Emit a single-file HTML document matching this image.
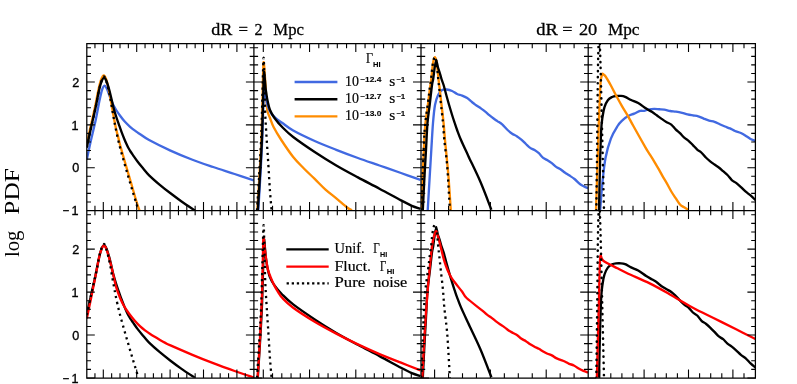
<!DOCTYPE html>
<html><head><meta charset="utf-8"><title>log PDF</title>
<style>html,body{margin:0;padding:0;background:#fff;}body{width:797px;height:384px;overflow:hidden;font-family:"Liberation Sans",sans-serif;}svg{display:block;}</style>
</head><body>
<svg width="797" height="384" viewBox="0 0 797 384">
<rect width="797" height="384" fill="#fff"/>
<defs>
<clipPath id="c00"><rect x="86.80" y="43.50" width="167.10" height="167.30"/></clipPath>
<clipPath id="c01"><rect x="86.80" y="210.50" width="167.10" height="167.30"/></clipPath>
<clipPath id="c10"><rect x="253.90" y="43.50" width="167.10" height="167.30"/></clipPath>
<clipPath id="c11"><rect x="253.90" y="210.50" width="167.10" height="167.30"/></clipPath>
<clipPath id="c20"><rect x="421.00" y="43.50" width="167.20" height="167.30"/></clipPath>
<clipPath id="c21"><rect x="421.00" y="210.50" width="167.20" height="167.30"/></clipPath>
<clipPath id="c30"><rect x="588.20" y="43.50" width="167.20" height="167.30"/></clipPath>
<clipPath id="c31"><rect x="588.20" y="210.50" width="167.20" height="167.30"/></clipPath>
</defs>
<g clip-path="url(#c00)">
<path d="M86.80 159.50 C87.50 156.25 89.52 146.58 91.00 140.00 C92.48 133.42 94.27 126.65 95.70 120.00 C97.13 113.35 98.55 105.10 99.60 100.10 C100.65 95.10 101.17 92.42 102.00 90.00 C102.83 87.58 103.77 85.77 104.60 85.60 C105.43 85.43 106.10 87.10 107.00 89.00 C107.90 90.90 109.03 94.50 110.00 97.00 C110.97 99.50 111.72 101.75 112.80 104.00 C113.88 106.25 115.25 108.50 116.50 110.50 C117.75 112.50 118.97 114.20 120.30 116.00 C121.63 117.80 122.87 119.50 124.50 121.30 C126.13 123.10 128.13 125.08 130.10 126.80 C132.07 128.52 134.62 130.37 136.30 131.60 C137.98 132.83 138.07 132.80 140.20 134.20 C142.33 135.60 144.05 137.27 149.10 140.00 C154.15 142.73 163.38 147.35 170.50 150.60 C177.62 153.85 184.68 156.77 191.80 159.50 C198.92 162.23 206.07 164.58 213.20 167.00 C220.33 169.42 227.83 171.75 234.60 174.00 C241.37 176.25 250.60 179.42 253.80 180.50" fill="none" stroke="#4169e1" stroke-width="2.35" stroke-linejoin="round" />
<path d="M86.30 146.50 C86.97 143.42 88.88 134.42 90.30 128.00 C91.72 121.58 93.45 114.33 94.80 108.00 C96.15 101.67 97.37 94.67 98.40 90.00 C99.43 85.33 100.10 82.42 101.00 80.00 C101.90 77.58 102.90 75.50 103.80 75.50 C104.70 75.50 105.57 77.58 106.40 80.00 C107.23 82.42 108.10 86.83 108.80 90.00 C109.50 93.17 109.98 95.67 110.60 99.00 C111.22 102.33 111.88 106.50 112.50 110.00 C113.12 113.50 113.70 116.82 114.30 120.00 C114.90 123.18 115.42 126.10 116.10 129.10 C116.78 132.10 117.73 135.35 118.40 138.00 C119.07 140.65 118.92 140.67 120.10 145.00 C121.28 149.33 123.67 157.67 125.50 164.00 C127.33 170.33 129.30 176.83 131.10 183.00 C132.90 189.17 134.90 196.42 136.30 201.00 C137.70 205.58 138.97 208.92 139.50 210.50" fill="none" stroke="#ff8c00" stroke-width="2.35" stroke-linejoin="round" />
<path d="M86.80 147.50 C87.50 144.25 89.55 134.58 91.00 128.00 C92.45 121.42 94.15 114.33 95.50 108.00 C96.85 101.67 98.10 94.42 99.10 90.00 C100.10 85.58 100.68 83.53 101.50 81.50 C102.32 79.47 103.17 77.83 104.00 77.80 C104.83 77.77 105.62 79.27 106.50 81.30 C107.38 83.33 108.47 87.05 109.30 90.00 C110.13 92.95 110.78 96.00 111.50 99.00 C112.22 102.00 112.80 105.00 113.60 108.00 C114.40 111.00 115.40 114.20 116.30 117.00 C117.20 119.80 118.12 122.28 119.00 124.80 C119.88 127.32 120.68 129.65 121.60 132.10 C122.52 134.55 123.67 137.47 124.50 139.50 C125.33 141.53 125.97 142.92 126.60 144.30 C127.23 145.68 127.65 146.60 128.30 147.80 C128.95 149.00 129.70 150.25 130.50 151.50 C131.30 152.75 131.93 153.63 133.10 155.30 C134.27 156.97 135.98 159.50 137.50 161.50 C139.02 163.50 140.27 165.00 142.20 167.30 C144.13 169.60 146.17 172.38 149.10 175.30 C152.03 178.22 156.23 181.80 159.80 184.80 C163.37 187.80 166.93 190.57 170.50 193.30 C174.07 196.03 177.12 198.33 181.20 201.20 C185.28 204.07 192.70 208.95 195.00 210.50" fill="none" stroke="#000" stroke-width="2.35" stroke-linejoin="round" />
<path d="M86.80 147.50 C87.50 144.25 89.55 134.58 91.00 128.00 C92.45 121.42 94.15 114.33 95.50 108.00 C96.85 101.67 98.10 94.50 99.10 90.00 C100.10 85.50 100.68 83.25 101.50 81.00 C102.32 78.75 103.22 76.50 104.00 76.50 C104.78 76.50 105.45 78.75 106.20 81.00 C106.95 83.25 107.80 87.00 108.50 90.00 C109.20 93.00 109.77 95.67 110.40 99.00 C111.03 102.33 111.68 106.50 112.30 110.00 C112.92 113.50 113.52 116.83 114.10 120.00 C114.68 123.17 114.92 124.83 115.80 129.00 C116.68 133.17 118.00 139.42 119.40 145.00 C120.80 150.58 122.67 157.07 124.20 162.50 C125.73 167.93 127.13 172.60 128.60 177.60 C130.07 182.60 131.53 187.60 133.00 192.50 C134.47 197.40 136.50 204.00 137.40 207.00 C138.30 210.00 138.23 209.92 138.40 210.50" fill="none" stroke="#000" stroke-width="2.3" stroke-linejoin="round" stroke-dasharray="2.2 3.85" stroke-linecap="butt"/>
</g>
<g clip-path="url(#c01)">
<path d="M86.80 314.90 C87.50 311.65 89.55 301.98 91.00 295.40 C92.45 288.82 94.15 281.73 95.50 275.40 C96.85 269.07 98.10 261.82 99.10 257.40 C100.10 252.98 100.68 250.93 101.50 248.90 C102.32 246.87 103.17 245.23 104.00 245.20 C104.83 245.17 105.62 246.67 106.50 248.70 C107.38 250.73 108.47 254.45 109.30 257.40 C110.13 260.35 110.78 263.40 111.50 266.40 C112.22 269.40 112.80 272.40 113.60 275.40 C114.40 278.40 115.40 281.60 116.30 284.40 C117.20 287.20 118.12 289.68 119.00 292.20 C119.88 294.72 120.68 297.05 121.60 299.50 C122.52 301.95 123.67 304.87 124.50 306.90 C125.33 308.93 125.97 310.32 126.60 311.70 C127.23 313.08 127.65 314.00 128.30 315.20 C128.95 316.40 129.70 317.65 130.50 318.90 C131.30 320.15 131.93 321.03 133.10 322.70 C134.27 324.37 135.98 326.90 137.50 328.90 C139.02 330.90 140.27 332.40 142.20 334.70 C144.13 337.00 146.17 339.78 149.10 342.70 C152.03 345.62 156.23 349.20 159.80 352.20 C163.37 355.20 166.93 357.97 170.50 360.70 C174.07 363.43 177.12 365.73 181.20 368.60 C185.28 371.47 192.70 376.35 195.00 377.90" fill="none" stroke="#000" stroke-width="2.35" stroke-linejoin="round" />
<path d="M86.80 318.40 C87.50 315.07 89.60 305.23 91.00 298.40 C92.40 291.57 93.88 284.07 95.20 277.40 C96.52 270.73 97.85 263.10 98.90 258.40 C99.95 253.70 100.67 251.33 101.50 249.20 C102.33 247.07 103.08 245.63 103.90 245.60 C104.72 245.57 105.53 246.95 106.40 249.00 C107.27 251.05 108.28 255.00 109.10 257.90 C109.92 260.80 110.58 263.48 111.30 266.40 C112.02 269.32 112.62 272.07 113.40 275.40 C114.18 278.73 115.18 283.40 116.00 286.40 C116.82 289.40 117.58 291.40 118.30 293.40 C119.02 295.40 119.42 296.43 120.30 298.40 C121.18 300.37 122.57 303.27 123.60 305.20 C124.63 307.13 125.42 308.37 126.50 310.00 C127.58 311.63 128.68 313.17 130.10 315.00 C131.52 316.83 133.32 319.10 135.00 321.00 C136.68 322.90 138.53 324.83 140.20 326.40 C141.87 327.97 143.33 329.13 145.00 330.40 C146.67 331.67 147.70 332.42 150.20 334.00 C152.70 335.58 157.48 338.42 160.00 339.90 C162.52 341.38 163.55 341.98 165.30 342.90 C167.05 343.82 166.08 343.45 170.50 345.40 C174.92 347.35 184.68 351.63 191.80 354.60 C198.92 357.57 206.07 360.47 213.20 363.20 C220.33 365.93 227.83 368.62 234.60 371.00 C241.37 373.38 250.60 376.42 253.80 377.50" fill="none" stroke="#ff0000" stroke-width="2.35" stroke-linejoin="round" />
<path d="M86.80 314.90 C87.50 311.65 89.55 301.98 91.00 295.40 C92.45 288.82 94.15 281.73 95.50 275.40 C96.85 269.07 98.10 261.90 99.10 257.40 C100.10 252.90 100.68 250.65 101.50 248.40 C102.32 246.15 103.22 243.90 104.00 243.90 C104.78 243.90 105.45 246.15 106.20 248.40 C106.95 250.65 107.80 254.40 108.50 257.40 C109.20 260.40 109.77 263.07 110.40 266.40 C111.03 269.73 111.68 273.90 112.30 277.40 C112.92 280.90 113.52 284.23 114.10 287.40 C114.68 290.57 114.92 292.23 115.80 296.40 C116.68 300.57 118.00 306.82 119.40 312.40 C120.80 317.98 122.67 324.47 124.20 329.90 C125.73 335.33 127.13 340.00 128.60 345.00 C130.07 350.00 131.53 355.00 133.00 359.90 C134.47 364.80 136.50 371.40 137.40 374.40 C138.30 377.40 138.23 377.32 138.40 377.90" fill="none" stroke="#000" stroke-width="2.3" stroke-linejoin="round" stroke-dasharray="2.2 3.85" stroke-linecap="butt"/>
</g>
<g clip-path="url(#c10)">
<path d="M257.30 210.50 C257.67 204.58 258.82 186.75 259.50 175.00 C260.18 163.25 260.90 152.50 261.40 140.00 C261.90 127.50 262.15 112.83 262.50 100.00 C262.85 87.17 263.12 67.17 263.50 63.00 C263.88 58.83 264.42 70.50 264.80 75.00 C265.18 79.50 265.38 84.17 265.80 90.00 C266.22 95.83 266.60 105.33 267.30 110.00 C268.00 114.67 268.93 115.12 270.00 118.00 C271.07 120.88 271.82 123.63 273.70 127.30 C275.58 130.97 278.05 135.05 281.30 140.00 C284.55 144.95 289.43 152.25 293.20 157.00 C296.97 161.75 300.32 164.85 303.90 168.50 C307.48 172.15 311.10 175.38 314.70 178.90 C318.30 182.42 321.90 186.37 325.50 189.60 C329.10 192.83 332.70 195.32 336.30 198.30 C339.90 201.28 344.50 205.50 347.10 207.50 C349.70 209.50 351.10 209.83 351.90 210.30" fill="none" stroke="#ff8c00" stroke-width="2.35" stroke-linejoin="round" />
<path d="M258.30 210.50 C258.65 204.58 259.75 186.75 260.40 175.00 C261.05 163.25 261.73 151.17 262.20 140.00 C262.67 128.83 262.87 117.17 263.20 108.00 C263.53 98.83 263.80 87.17 264.20 85.00 C264.60 82.83 265.05 91.67 265.60 95.00 C266.15 98.33 266.60 102.00 267.50 105.00 C268.40 108.00 269.58 110.75 271.00 113.00 C272.42 115.25 274.10 116.83 276.00 118.50 C277.90 120.17 279.53 121.00 282.40 123.00 C285.27 125.00 287.82 127.50 293.20 130.50 C298.58 133.50 307.52 137.78 314.70 141.00 C321.88 144.22 329.10 146.97 336.30 149.80 C343.50 152.63 350.70 155.38 357.90 158.00 C365.10 160.62 372.32 163.00 379.50 165.50 C386.68 168.00 394.17 170.62 401.00 173.00 C407.83 175.38 417.25 178.67 420.50 179.80" fill="none" stroke="#4169e1" stroke-width="2.35" stroke-linejoin="round" />
<path d="M257.80 210.50 C258.17 204.58 259.32 186.75 260.00 175.00 C260.68 163.25 261.40 151.67 261.90 140.00 C262.40 128.33 262.67 116.17 263.00 105.00 C263.33 93.83 263.58 77.17 263.90 73.00 C264.22 68.83 264.58 77.17 264.90 80.00 C265.22 82.83 265.38 86.67 265.80 90.00 C266.22 93.33 266.70 96.67 267.40 100.00 C268.10 103.33 268.82 107.00 270.00 110.00 C271.18 113.00 272.43 115.12 274.50 118.00 C276.57 120.88 279.28 124.13 282.40 127.30 C285.52 130.47 287.82 132.88 293.20 137.00 C298.58 141.12 307.52 147.25 314.70 152.00 C321.88 156.75 329.10 161.27 336.30 165.50 C343.50 169.73 350.70 173.53 357.90 177.40 C365.10 181.27 372.32 184.87 379.50 188.70 C386.68 192.53 395.62 197.55 401.00 200.40 C406.38 203.25 408.55 204.40 411.80 205.80 C415.05 207.20 419.05 208.30 420.50 208.80" fill="none" stroke="#000" stroke-width="2.35" stroke-linejoin="round" />
<path d="M257.00 210.50 C257.37 204.58 258.52 186.75 259.20 175.00 C259.88 163.25 260.58 152.50 261.10 140.00 C261.62 127.50 261.90 113.58 262.30 100.00 C262.70 86.42 263.17 62.50 263.50 58.50 C263.83 54.50 264.03 67.42 264.30 76.00 C264.57 84.58 264.78 100.73 265.10 110.00 C265.42 119.27 265.67 122.60 266.20 131.60 C266.73 140.60 267.68 154.27 268.30 164.00 C268.92 173.73 269.35 182.25 269.90 190.00 C270.45 197.75 271.32 207.08 271.60 210.50" fill="none" stroke="#000" stroke-width="2.3" stroke-linejoin="round" stroke-dasharray="2.2 3.85" stroke-linecap="butt"/>
</g>
<g clip-path="url(#c11)">
<path d="M257.80 377.90 C258.17 371.98 259.32 354.15 260.00 342.40 C260.68 330.65 261.40 319.07 261.90 307.40 C262.40 295.73 262.67 283.57 263.00 272.40 C263.33 261.23 263.58 244.57 263.90 240.40 C264.22 236.23 264.58 244.57 264.90 247.40 C265.22 250.23 265.38 254.07 265.80 257.40 C266.22 260.73 266.70 264.07 267.40 267.40 C268.10 270.73 268.82 274.40 270.00 277.40 C271.18 280.40 272.43 282.52 274.50 285.40 C276.57 288.28 279.28 291.53 282.40 294.70 C285.52 297.87 287.82 300.28 293.20 304.40 C298.58 308.52 307.52 314.65 314.70 319.40 C321.88 324.15 329.10 328.67 336.30 332.90 C343.50 337.13 350.70 340.93 357.90 344.80 C365.10 348.67 372.32 352.27 379.50 356.10 C386.68 359.93 395.62 364.95 401.00 367.80 C406.38 370.65 408.55 371.80 411.80 373.20 C415.05 374.60 419.05 375.70 420.50 376.20" fill="none" stroke="#000" stroke-width="2.35" stroke-linejoin="round" />
<path d="M257.60 377.90 C257.97 371.98 259.08 355.72 259.80 342.40 C260.52 329.08 261.42 310.50 261.90 298.00 C262.38 285.50 262.45 277.33 262.70 267.40 C262.95 257.47 263.10 241.97 263.40 238.40 C263.70 234.83 264.03 242.47 264.50 246.00 C264.97 249.53 265.62 255.62 266.20 259.60 C266.78 263.58 267.28 267.02 268.00 269.90 C268.72 272.78 269.50 274.40 270.50 276.90 C271.50 279.40 272.75 282.42 274.00 284.90 C275.25 287.38 276.60 289.62 278.00 291.80 C279.40 293.98 279.87 295.35 282.40 298.00 C284.93 300.65 287.82 303.75 293.20 307.70 C298.58 311.65 307.52 317.38 314.70 321.70 C321.88 326.02 329.10 329.82 336.30 333.60 C343.50 337.38 350.70 340.98 357.90 344.40 C365.10 347.82 372.32 351.05 379.50 354.10 C386.68 357.15 394.17 360.00 401.00 362.70 C407.83 365.40 417.25 369.03 420.50 370.30" fill="none" stroke="#ff0000" stroke-width="2.35" stroke-linejoin="round" />
<path d="M257.00 377.90 C257.37 371.98 258.52 354.15 259.20 342.40 C259.88 330.65 260.58 319.90 261.10 307.40 C261.62 294.90 261.90 280.98 262.30 267.40 C262.70 253.82 263.17 229.90 263.50 225.90 C263.83 221.90 264.03 234.82 264.30 243.40 C264.57 251.98 264.78 268.13 265.10 277.40 C265.42 286.67 265.67 290.00 266.20 299.00 C266.73 308.00 267.68 321.67 268.30 331.40 C268.92 341.13 269.35 349.65 269.90 357.40 C270.45 365.15 271.32 374.48 271.60 377.90" fill="none" stroke="#000" stroke-width="2.3" stroke-linejoin="round" stroke-dasharray="2.2 3.85" stroke-linecap="butt"/>
</g>
<g clip-path="url(#c20)">
<path d="M427.70 210.50 C428.00 205.42 428.90 190.08 429.50 180.00 C430.10 169.92 430.72 159.50 431.30 150.00 C431.88 140.50 432.38 130.50 433.00 123.00 C433.62 115.50 434.15 109.67 435.00 105.00 C435.85 100.33 436.92 97.50 438.10 95.00 C439.28 92.50 440.68 90.92 442.10 90.00 C443.52 89.08 444.93 89.33 446.60 89.50 C448.27 89.67 450.35 90.25 452.10 91.00 C453.85 91.75 455.43 93.24 457.10 94.00 C458.78 94.76 460.47 94.90 462.15 95.58 C463.83 96.26 465.69 97.12 467.20 98.10 C468.71 99.08 469.87 100.35 471.20 101.43 C472.53 102.51 473.53 103.40 475.20 104.60 C476.87 105.80 479.52 107.43 481.20 108.60 C482.88 109.77 483.90 110.53 485.25 111.62 C486.60 112.70 487.96 113.99 489.30 115.10 C490.64 116.21 491.97 117.29 493.30 118.29 C494.63 119.29 495.82 120.08 497.30 121.10 C498.78 122.12 500.48 122.92 502.20 124.40 C503.92 125.88 505.94 128.45 507.60 130.00 C509.26 131.55 510.65 132.69 512.17 133.73 C513.70 134.76 515.23 135.24 516.75 136.22 C518.27 137.20 519.80 138.33 521.33 139.62 C522.85 140.92 524.42 142.63 525.90 144.00 C527.38 145.37 528.78 146.84 530.22 147.85 C531.66 148.86 533.10 149.15 534.54 150.05 C535.98 150.95 537.42 151.94 538.86 153.24 C540.30 154.54 541.74 156.69 543.18 157.85 C544.62 159.01 546.06 159.31 547.50 160.20 C548.94 161.09 550.38 162.06 551.82 163.17 C553.26 164.27 554.70 165.84 556.14 166.85 C557.58 167.85 559.02 168.27 560.46 169.22 C561.90 170.16 563.34 171.52 564.78 172.53 C566.22 173.54 567.48 174.22 569.10 175.30 C570.72 176.38 572.70 177.57 574.50 179.02 C576.30 180.47 578.31 182.77 579.90 184.00 C581.49 185.23 582.67 185.68 584.05 186.39 C585.43 187.11 587.51 187.98 588.20 188.30" fill="none" stroke="#4169e1" stroke-width="2.35" stroke-linejoin="round" />
<path d="M421.50 210.50 C421.72 204.58 422.33 186.75 422.80 175.00 C423.27 163.25 423.85 148.67 424.30 140.00 C424.75 131.33 424.83 129.33 425.50 123.00 C426.17 116.67 427.55 107.83 428.30 102.00 C429.05 96.17 429.50 91.83 430.00 88.00 C430.50 84.17 430.93 82.00 431.30 79.00 C431.67 76.00 431.87 72.90 432.20 70.00 C432.53 67.10 432.85 63.75 433.30 61.60 C433.75 59.45 434.37 57.10 434.90 57.10 C435.43 57.10 436.05 59.45 436.50 61.60 C436.95 63.75 437.27 67.10 437.60 70.00 C437.93 72.90 438.17 76.00 438.50 79.00 C438.83 82.00 439.15 84.17 439.60 88.00 C440.05 91.83 440.53 96.17 441.20 102.00 C441.87 107.83 442.97 116.67 443.60 123.00 C444.23 129.33 444.23 131.63 445.00 140.00 C445.77 148.37 447.23 161.45 448.20 173.20 C449.17 184.95 450.37 204.28 450.80 210.50" fill="none" stroke="#ff8c00" stroke-width="2.35" stroke-linejoin="round" />
<path d="M422.80 210.50 C423.05 205.42 423.77 190.08 424.30 180.00 C424.83 169.92 425.47 159.50 426.00 150.00 C426.53 140.50 426.87 130.67 427.50 123.00 C428.13 115.33 429.05 110.33 429.80 104.00 C430.55 97.67 431.43 89.17 432.00 85.00 C432.57 80.83 432.73 82.03 433.20 79.00 C433.67 75.97 434.28 69.83 434.80 66.80 C435.32 63.77 435.80 60.80 436.30 60.80 C436.80 60.80 437.27 64.93 437.80 66.80 C438.33 68.67 438.88 69.97 439.50 72.00 C440.12 74.03 440.82 76.83 441.50 79.00 C442.18 81.17 442.80 82.33 443.60 85.00 C444.40 87.67 445.38 91.67 446.30 95.00 C447.22 98.33 448.13 101.67 449.10 105.00 C450.07 108.33 451.17 112.00 452.10 115.00 C453.03 118.00 453.87 120.50 454.70 123.00 C455.53 125.50 456.05 127.17 457.10 130.00 C458.15 132.83 459.13 135.68 461.00 140.00 C462.87 144.32 465.07 148.93 468.30 155.90 C471.53 162.87 476.55 172.82 480.40 181.80 C484.25 190.78 489.57 205.13 491.40 209.80" fill="none" stroke="#000" stroke-width="2.35" stroke-linejoin="round" />
<path d="M421.30 210.50 C421.52 204.58 422.13 186.75 422.60 175.00 C423.07 163.25 423.65 148.67 424.10 140.00 C424.55 131.33 424.63 129.33 425.30 123.00 C425.97 116.67 427.35 107.83 428.10 102.00 C428.85 96.17 429.30 91.83 429.80 88.00 C430.30 84.17 430.73 82.00 431.10 79.00 C431.47 76.00 431.65 72.90 432.00 70.00 C432.35 67.10 432.72 63.82 433.20 61.60 C433.68 59.38 434.37 56.70 434.90 56.70 C435.43 56.70 435.98 59.38 436.40 61.60 C436.82 63.82 437.10 67.10 437.40 70.00 C437.70 72.90 437.90 76.00 438.20 79.00 C438.50 82.00 438.78 84.17 439.20 88.00 C439.62 91.83 440.07 96.17 440.70 102.00 C441.33 107.83 442.40 116.67 443.00 123.00 C443.60 129.33 443.62 133.00 444.30 140.00 C444.98 147.00 446.32 155.83 447.10 165.00 C447.88 174.17 448.53 187.42 449.00 195.00 C449.47 202.58 449.75 207.92 449.90 210.50" fill="none" stroke="#000" stroke-width="2.3" stroke-linejoin="round" stroke-dasharray="2.2 3.85" stroke-linecap="butt"/>
</g>
<g clip-path="url(#c21)">
<path d="M422.80 377.90 C423.05 372.82 423.77 357.48 424.30 347.40 C424.83 337.32 425.47 326.90 426.00 317.40 C426.53 307.90 426.87 298.07 427.50 290.40 C428.13 282.73 429.05 277.73 429.80 271.40 C430.55 265.07 431.43 256.57 432.00 252.40 C432.57 248.23 432.73 249.43 433.20 246.40 C433.67 243.37 434.28 237.23 434.80 234.20 C435.32 231.17 435.80 228.20 436.30 228.20 C436.80 228.20 437.27 232.33 437.80 234.20 C438.33 236.07 438.88 237.37 439.50 239.40 C440.12 241.43 440.82 244.23 441.50 246.40 C442.18 248.57 442.80 249.73 443.60 252.40 C444.40 255.07 445.38 259.07 446.30 262.40 C447.22 265.73 448.13 269.07 449.10 272.40 C450.07 275.73 451.17 279.40 452.10 282.40 C453.03 285.40 453.87 287.90 454.70 290.40 C455.53 292.90 456.05 294.57 457.10 297.40 C458.15 300.23 459.13 303.08 461.00 307.40 C462.87 311.72 465.07 316.33 468.30 323.30 C471.53 330.27 476.55 340.22 480.40 349.20 C484.25 358.18 489.57 372.53 491.40 377.20" fill="none" stroke="#000" stroke-width="2.35" stroke-linejoin="round" />
<path d="M422.30 377.90 C422.67 370.75 423.67 348.82 424.50 335.00 C425.33 321.18 426.38 306.67 427.30 295.00 C428.22 283.33 429.13 273.67 430.00 265.00 C430.87 256.33 431.55 248.57 432.50 243.00 C433.45 237.43 434.87 232.93 435.70 231.60 C436.53 230.27 436.85 233.20 437.50 235.00 C438.15 236.80 438.90 239.73 439.60 242.40 C440.30 245.07 440.98 248.13 441.70 251.00 C442.42 253.87 443.18 257.10 443.90 259.60 C444.62 262.10 445.28 264.02 446.00 266.00 C446.72 267.98 447.37 269.67 448.20 271.50 C449.03 273.33 449.92 275.20 451.00 277.00 C452.08 278.80 452.83 279.83 454.70 282.30 C456.57 284.77 460.22 289.18 462.20 291.80 C464.18 294.42 463.18 294.82 466.60 298.00 C470.02 301.18 479.30 308.13 482.70 310.90 C486.10 313.67 485.58 313.51 487.02 314.63 C488.46 315.74 489.90 316.51 491.34 317.60 C492.78 318.68 494.22 320.02 495.66 321.13 C497.10 322.25 498.54 323.29 499.98 324.29 C501.42 325.28 502.86 326.06 504.30 327.10 C505.74 328.14 507.18 329.53 508.62 330.51 C510.06 331.48 511.50 332.17 512.94 332.95 C514.38 333.72 515.82 334.18 517.26 335.16 C518.70 336.13 520.14 337.81 521.58 338.81 C523.02 339.82 524.46 340.29 525.90 341.20 C527.34 342.11 528.78 343.34 530.22 344.26 C531.66 345.17 533.10 345.93 534.54 346.69 C535.98 347.44 537.42 347.99 538.86 348.78 C540.30 349.58 541.74 350.64 543.18 351.46 C544.62 352.28 546.06 353.05 547.50 353.70 C548.94 354.35 550.38 354.63 551.82 355.37 C553.26 356.11 554.70 357.39 556.14 358.14 C557.58 358.88 559.02 359.28 560.46 359.85 C561.90 360.41 563.34 360.86 564.78 361.52 C566.22 362.18 567.58 363.15 569.10 363.80 C570.62 364.45 572.28 364.66 573.88 365.45 C575.47 366.25 577.06 367.66 578.65 368.57 C580.24 369.49 581.83 370.26 583.43 370.91 C585.02 371.57 587.40 372.24 588.20 372.50" fill="none" stroke="#ff0000" stroke-width="2.35" stroke-linejoin="round" />
<path d="M421.30 377.90 C421.52 371.98 422.13 354.15 422.60 342.40 C423.07 330.65 423.65 316.07 424.10 307.40 C424.55 298.73 424.63 296.73 425.30 290.40 C425.97 284.07 427.35 275.23 428.10 269.40 C428.85 263.57 429.30 259.23 429.80 255.40 C430.30 251.57 430.73 249.40 431.10 246.40 C431.47 243.40 431.65 240.30 432.00 237.40 C432.35 234.50 432.72 231.22 433.20 229.00 C433.68 226.78 434.37 224.10 434.90 224.10 C435.43 224.10 435.98 226.78 436.40 229.00 C436.82 231.22 437.10 234.50 437.40 237.40 C437.70 240.30 437.90 243.40 438.20 246.40 C438.50 249.40 438.78 251.57 439.20 255.40 C439.62 259.23 440.07 263.57 440.70 269.40 C441.33 275.23 442.40 284.07 443.00 290.40 C443.60 296.73 443.62 300.40 444.30 307.40 C444.98 314.40 446.32 323.23 447.10 332.40 C447.88 341.57 448.53 354.82 449.00 362.40 C449.47 369.98 449.75 375.32 449.90 377.90" fill="none" stroke="#000" stroke-width="2.3" stroke-linejoin="round" stroke-dasharray="2.2 3.85" stroke-linecap="butt"/>
</g>
<g clip-path="url(#c30)">
<path d="M600.10 210.50 C600.47 206.08 601.40 192.75 602.30 184.00 C603.20 175.25 604.07 165.57 605.50 158.00 C606.93 150.43 608.88 143.93 610.90 138.60 C612.92 133.27 615.73 129.00 617.60 126.00 C619.47 123.00 620.35 122.25 622.10 120.60 C623.85 118.95 626.08 117.27 628.10 116.10 C630.12 114.93 632.18 114.47 634.20 113.60 C636.22 112.73 638.53 111.36 640.20 110.90 C641.87 110.44 642.87 111.06 644.20 110.84 C645.53 110.62 646.53 109.92 648.20 109.60 C649.87 109.28 652.36 108.95 654.20 108.90 C656.04 108.85 657.57 109.17 659.25 109.29 C660.93 109.40 662.48 109.32 664.30 109.60 C666.12 109.88 668.20 110.65 670.15 110.99 C672.10 111.32 674.01 111.30 676.00 111.60 C677.99 111.90 680.18 112.34 682.10 112.80 C684.02 113.26 685.70 113.94 687.50 114.37 C689.30 114.81 691.10 115.08 692.90 115.40 C694.70 115.72 696.50 115.77 698.30 116.30 C700.10 116.84 701.90 117.88 703.70 118.60 C705.50 119.32 707.30 120.08 709.10 120.61 C710.90 121.15 712.73 121.19 714.50 121.80 C716.27 122.41 718.00 123.51 719.75 124.30 C721.50 125.08 723.29 125.81 725.00 126.50 C726.71 127.19 728.33 127.68 730.00 128.43 C731.67 129.18 733.18 130.24 735.00 131.00 C736.82 131.76 738.93 132.08 740.90 133.00 C742.87 133.92 745.10 135.44 746.80 136.50 C748.50 137.56 749.67 138.58 751.10 139.33 C752.53 140.08 754.68 140.72 755.40 141.00" fill="none" stroke="#4169e1" stroke-width="2.35" stroke-linejoin="round" />
<path d="M599.00 210.50 C599.17 202.92 599.63 178.42 600.00 165.00 C600.37 151.58 600.78 137.98 601.20 130.00 C601.62 122.02 601.95 120.92 602.50 117.10 C603.05 113.28 603.58 109.95 604.50 107.10 C605.42 104.25 606.73 101.68 608.00 100.00 C609.27 98.32 610.75 97.67 612.10 97.00 C613.45 96.33 614.62 96.18 616.10 96.00 C617.58 95.82 619.50 95.77 621.00 95.90 C622.50 96.03 623.42 96.12 625.10 96.80 C626.78 97.48 628.92 98.95 631.10 100.00 C633.28 101.05 635.68 101.67 638.20 103.10 C640.72 104.53 643.87 107.10 646.20 108.60 C648.53 110.10 650.44 110.98 652.20 112.10 C653.96 113.22 655.23 114.22 656.75 115.30 C658.27 116.38 659.71 117.48 661.30 118.60 C662.89 119.72 664.63 120.99 666.30 121.99 C667.97 122.99 669.75 123.37 671.30 124.60 C672.85 125.83 674.18 127.95 675.62 129.38 C677.06 130.81 678.50 131.81 679.94 133.19 C681.38 134.56 682.82 136.39 684.26 137.66 C685.70 138.93 687.14 139.57 688.58 140.81 C690.02 142.05 691.46 143.65 692.90 145.10 C694.34 146.55 695.78 148.24 697.22 149.52 C698.66 150.80 700.10 151.43 701.54 152.76 C702.98 154.09 704.42 156.10 705.86 157.52 C707.30 158.95 708.74 160.14 710.18 161.30 C711.62 162.46 713.06 163.47 714.50 164.50 C715.94 165.53 717.38 166.34 718.82 167.46 C720.26 168.57 721.70 169.94 723.14 171.20 C724.58 172.47 726.02 173.56 727.46 175.03 C728.90 176.51 730.34 178.75 731.78 180.06 C733.22 181.37 734.58 181.73 736.10 182.90 C737.62 184.07 739.32 185.61 740.92 187.09 C742.53 188.56 744.14 190.34 745.75 191.73 C747.36 193.12 748.97 194.05 750.58 195.44 C752.18 196.84 754.60 199.32 755.40 200.10" fill="none" stroke="#000" stroke-width="2.35" stroke-linejoin="round" />
<path d="M596.00 210.50 C596.25 202.92 597.03 179.45 597.50 165.00 C597.97 150.55 598.40 135.47 598.80 123.80 C599.20 112.13 599.58 102.12 599.90 95.00 C600.22 87.88 600.38 84.35 600.70 81.10 C601.02 77.85 601.52 76.75 601.80 75.50 C602.08 74.25 602.10 73.75 602.40 73.60 C602.70 73.45 603.07 74.12 603.60 74.60 C604.13 75.08 604.38 74.68 605.60 76.50 C606.82 78.32 609.15 82.33 610.90 85.50 C612.65 88.67 614.23 92.03 616.10 95.50 C617.97 98.97 620.10 102.83 622.10 106.30 C624.10 109.77 626.27 113.10 628.10 116.30 C629.93 119.50 630.22 120.33 633.10 125.50 C635.98 130.67 642.62 142.50 645.40 147.30 C648.17 152.10 648.30 151.98 649.75 154.31 C651.20 156.65 652.66 158.91 654.10 161.30 C655.54 163.69 656.97 166.13 658.40 168.64 C659.83 171.16 661.27 173.89 662.70 176.40 C664.13 178.91 665.57 181.16 667.00 183.68 C668.43 186.20 669.86 189.09 671.30 191.50 C672.74 193.91 674.20 195.99 675.65 198.15 C677.10 200.32 678.59 202.98 680.00 204.50 C681.41 206.02 682.73 206.42 684.10 207.30 C685.47 208.18 687.52 209.38 688.20 209.80" fill="none" stroke="#ff8c00" stroke-width="2.35" stroke-linejoin="round" />
<path d="M596.30 210.50 C596.45 198.75 596.93 163.08 597.20 140.00 C597.47 116.92 597.67 88.13 597.90 72.00 C598.13 55.87 598.48 48.00 598.60 43.20" fill="none" stroke="#000" stroke-width="2.5" stroke-linejoin="round" stroke-dasharray="0.2 5.85" stroke-linecap="round"/>
<path d="M604.00 210.50 C603.72 198.75 602.85 163.08 602.30 140.00 C601.75 116.92 601.12 88.13 600.70 72.00 C600.28 55.87 599.95 48.00 599.80 43.20" fill="none" stroke="#000" stroke-width="2.5" stroke-linejoin="round" stroke-dasharray="0.2 5.85" stroke-dashoffset="3.02" stroke-linecap="round"/>
</g>
<g clip-path="url(#c31)">
<path d="M599.00 377.90 C599.17 370.32 599.63 345.82 600.00 332.40 C600.37 318.98 600.78 305.38 601.20 297.40 C601.62 289.42 601.95 288.32 602.50 284.50 C603.05 280.68 603.58 277.35 604.50 274.50 C605.42 271.65 606.73 269.08 608.00 267.40 C609.27 265.72 610.75 265.07 612.10 264.40 C613.45 263.73 614.62 263.58 616.10 263.40 C617.58 263.22 619.50 263.17 621.00 263.30 C622.50 263.43 623.42 263.52 625.10 264.20 C626.78 264.88 628.92 266.35 631.10 267.40 C633.28 268.45 635.68 269.07 638.20 270.50 C640.72 271.93 643.87 274.50 646.20 276.00 C648.53 277.50 650.44 278.45 652.20 279.50 C653.96 280.55 655.23 281.20 656.75 282.28 C658.27 283.36 659.71 284.87 661.30 286.00 C662.89 287.13 664.63 288.08 666.30 289.08 C667.97 290.08 669.75 290.87 671.30 292.00 C672.85 293.13 674.18 294.47 675.62 295.87 C677.06 297.26 678.50 298.94 679.94 300.39 C681.38 301.83 682.82 303.32 684.26 304.53 C685.70 305.73 687.14 306.29 688.58 307.62 C690.02 308.95 691.46 311.19 692.90 312.50 C694.34 313.81 695.78 314.11 697.22 315.50 C698.66 316.90 700.10 319.50 701.54 320.87 C702.98 322.23 704.42 322.59 705.86 323.71 C707.30 324.82 708.74 326.18 710.18 327.54 C711.62 328.91 713.06 330.41 714.50 331.90 C715.94 333.39 717.38 335.25 718.82 336.47 C720.26 337.69 721.70 338.03 723.14 339.21 C724.58 340.39 726.02 342.32 727.46 343.55 C728.90 344.77 730.34 345.45 731.78 346.58 C733.22 347.70 734.58 348.92 736.10 350.30 C737.62 351.68 739.32 353.52 740.92 354.85 C742.53 356.18 744.14 356.84 745.75 358.27 C747.36 359.70 748.97 361.90 750.58 363.44 C752.18 364.98 754.60 366.82 755.40 367.50" fill="none" stroke="#000" stroke-width="2.35" stroke-linejoin="round" />
<path d="M596.90 377.90 C597.12 369.48 597.85 340.72 598.20 327.40 C598.55 314.08 598.77 307.17 599.00 298.00 C599.23 288.83 599.35 279.45 599.60 272.40 C599.85 265.35 599.88 257.65 600.50 255.70 C601.12 253.75 600.48 258.60 603.30 260.70 C606.12 262.80 613.25 266.13 617.40 268.30 C621.55 270.47 622.82 271.18 628.20 273.70 C633.58 276.22 642.73 279.95 649.70 283.40 C656.67 286.85 662.80 290.35 670.00 294.40 C677.20 298.45 685.48 303.68 692.90 307.70 C700.32 311.72 707.30 314.90 714.50 318.50 C721.70 322.10 729.28 325.88 736.10 329.30 C742.92 332.72 752.18 337.38 755.40 339.00" fill="none" stroke="#ff0000" stroke-width="2.35" stroke-linejoin="round" />
<path d="M596.30 377.90 C596.45 366.15 596.93 330.48 597.20 307.40 C597.47 284.32 597.67 255.53 597.90 239.40 C598.13 223.27 598.48 215.40 598.60 210.60" fill="none" stroke="#000" stroke-width="2.5" stroke-linejoin="round" stroke-dasharray="0.2 5.85" stroke-linecap="round"/>
<path d="M604.00 377.90 C603.72 366.15 602.85 330.48 602.30 307.40 C601.75 284.32 601.12 255.53 600.70 239.40 C600.28 223.27 599.95 215.40 599.80 210.60" fill="none" stroke="#000" stroke-width="2.5" stroke-linejoin="round" stroke-dasharray="0.2 5.85" stroke-dashoffset="3.02" stroke-linecap="round"/>
</g>
<path d="M94.95 43.50v4.70M94.95 205.80v9.40M94.95 378.00v-4.70M103.30 43.50v8.60M103.30 201.90v17.20M103.30 378.00v-8.60M111.65 43.50v4.70M111.65 205.80v9.40M111.65 378.00v-4.70M120.00 43.50v4.70M120.00 205.80v9.40M120.00 378.00v-4.70M128.35 43.50v4.70M128.35 205.80v9.40M128.35 378.00v-4.70M136.70 43.50v8.60M136.70 201.90v17.20M136.70 378.00v-8.60M145.05 43.50v4.70M145.05 205.80v9.40M145.05 378.00v-4.70M153.40 43.50v4.70M153.40 205.80v9.40M153.40 378.00v-4.70M161.75 43.50v4.70M161.75 205.80v9.40M161.75 378.00v-4.70M170.10 43.50v8.60M170.10 201.90v17.20M170.10 378.00v-8.60M178.45 43.50v4.70M178.45 205.80v9.40M178.45 378.00v-4.70M186.80 43.50v4.70M186.80 205.80v9.40M186.80 378.00v-4.70M195.15 43.50v4.70M195.15 205.80v9.40M195.15 378.00v-4.70M203.50 43.50v8.60M203.50 201.90v17.20M203.50 378.00v-8.60M211.85 43.50v4.70M211.85 205.80v9.40M211.85 378.00v-4.70M220.20 43.50v4.70M220.20 205.80v9.40M220.20 378.00v-4.70M228.55 43.50v4.70M228.55 205.80v9.40M228.55 378.00v-4.70M236.90 43.50v8.60M236.90 201.90v17.20M236.90 378.00v-8.60M245.25 43.50v4.70M245.25 205.80v9.40M245.25 378.00v-4.70M263.30 43.50v8.60M263.30 201.90v17.20M263.30 378.00v-8.60M272.55 43.50v4.70M272.55 205.80v9.40M272.55 378.00v-4.70M281.80 43.50v4.70M281.80 205.80v9.40M281.80 378.00v-4.70M291.05 43.50v4.70M291.05 205.80v9.40M291.05 378.00v-4.70M300.30 43.50v4.70M300.30 205.80v9.40M300.30 378.00v-4.70M309.55 43.50v8.60M309.55 201.90v17.20M309.55 378.00v-8.60M318.80 43.50v4.70M318.80 205.80v9.40M318.80 378.00v-4.70M328.05 43.50v4.70M328.05 205.80v9.40M328.05 378.00v-4.70M337.30 43.50v4.70M337.30 205.80v9.40M337.30 378.00v-4.70M346.55 43.50v4.70M346.55 205.80v9.40M346.55 378.00v-4.70M355.80 43.50v8.60M355.80 201.90v17.20M355.80 378.00v-8.60M365.05 43.50v4.70M365.05 205.80v9.40M365.05 378.00v-4.70M374.30 43.50v4.70M374.30 205.80v9.40M374.30 378.00v-4.70M383.55 43.50v4.70M383.55 205.80v9.40M383.55 378.00v-4.70M392.80 43.50v4.70M392.80 205.80v9.40M392.80 378.00v-4.70M402.05 43.50v8.60M402.05 201.90v17.20M402.05 378.00v-8.60M411.30 43.50v4.70M411.30 205.80v9.40M411.30 378.00v-4.70M434.60 43.50v8.60M434.60 201.90v17.20M434.60 378.00v-8.60M448.55 43.50v4.70M448.55 205.80v9.40M448.55 378.00v-4.70M462.50 43.50v4.70M462.50 205.80v9.40M462.50 378.00v-4.70M476.45 43.50v4.70M476.45 205.80v9.40M476.45 378.00v-4.70M490.40 43.50v8.60M490.40 201.90v17.20M490.40 378.00v-8.60M504.35 43.50v4.70M504.35 205.80v9.40M504.35 378.00v-4.70M518.30 43.50v4.70M518.30 205.80v9.40M518.30 378.00v-4.70M532.25 43.50v4.70M532.25 205.80v9.40M532.25 378.00v-4.70M546.20 43.50v8.60M546.20 201.90v17.20M546.20 378.00v-8.60M560.15 43.50v4.70M560.15 205.80v9.40M560.15 378.00v-4.70M574.10 43.50v4.70M574.10 205.80v9.40M574.10 378.00v-4.70M599.70 43.50v8.60M599.70 201.90v17.20M599.70 378.00v-8.60M610.80 43.50v4.70M610.80 205.80v9.40M610.80 378.00v-4.70M621.90 43.50v4.70M621.90 205.80v9.40M621.90 378.00v-4.70M633.00 43.50v4.70M633.00 205.80v9.40M633.00 378.00v-4.70M644.10 43.50v8.60M644.10 201.90v17.20M644.10 378.00v-8.60M655.20 43.50v4.70M655.20 205.80v9.40M655.20 378.00v-4.70M666.30 43.50v4.70M666.30 205.80v9.40M666.30 378.00v-4.70M677.40 43.50v4.70M677.40 205.80v9.40M677.40 378.00v-4.70M688.50 43.50v8.60M688.50 201.90v17.20M688.50 378.00v-8.60M699.60 43.50v4.70M699.60 205.80v9.40M699.60 378.00v-4.70M710.70 43.50v4.70M710.70 205.80v9.40M710.70 378.00v-4.70M721.80 43.50v4.70M721.80 205.80v9.40M721.80 378.00v-4.70M732.90 43.50v8.60M732.90 201.90v17.20M732.90 378.00v-8.60M744.00 43.50v4.70M744.00 205.80v9.40M744.00 378.00v-4.70M86.80 210.50h8.00M253.90 210.50h8.00M253.90 210.50h-8.00M421.00 210.50h8.00M421.00 210.50h-8.00M588.20 210.50h8.00M588.20 210.50h-8.00M755.40 210.50h-8.00M86.80 201.94h4.20M253.90 201.94h4.20M253.90 201.94h-4.20M421.00 201.94h4.20M421.00 201.94h-4.20M588.20 201.94h4.20M588.20 201.94h-4.20M755.40 201.94h-4.20M86.80 193.37h4.20M253.90 193.37h4.20M253.90 193.37h-4.20M421.00 193.37h4.20M421.00 193.37h-4.20M588.20 193.37h4.20M588.20 193.37h-4.20M755.40 193.37h-4.20M86.80 184.81h4.20M253.90 184.81h4.20M253.90 184.81h-4.20M421.00 184.81h4.20M421.00 184.81h-4.20M588.20 184.81h4.20M588.20 184.81h-4.20M755.40 184.81h-4.20M86.80 176.24h4.20M253.90 176.24h4.20M253.90 176.24h-4.20M421.00 176.24h4.20M421.00 176.24h-4.20M588.20 176.24h4.20M588.20 176.24h-4.20M755.40 176.24h-4.20M86.80 167.68h8.00M253.90 167.68h8.00M253.90 167.68h-8.00M421.00 167.68h8.00M421.00 167.68h-8.00M588.20 167.68h8.00M588.20 167.68h-8.00M755.40 167.68h-8.00M86.80 159.12h4.20M253.90 159.12h4.20M253.90 159.12h-4.20M421.00 159.12h4.20M421.00 159.12h-4.20M588.20 159.12h4.20M588.20 159.12h-4.20M755.40 159.12h-4.20M86.80 150.55h4.20M253.90 150.55h4.20M253.90 150.55h-4.20M421.00 150.55h4.20M421.00 150.55h-4.20M588.20 150.55h4.20M588.20 150.55h-4.20M755.40 150.55h-4.20M86.80 141.99h4.20M253.90 141.99h4.20M253.90 141.99h-4.20M421.00 141.99h4.20M421.00 141.99h-4.20M588.20 141.99h4.20M588.20 141.99h-4.20M755.40 141.99h-4.20M86.80 133.42h4.20M253.90 133.42h4.20M253.90 133.42h-4.20M421.00 133.42h4.20M421.00 133.42h-4.20M588.20 133.42h4.20M588.20 133.42h-4.20M755.40 133.42h-4.20M86.80 124.86h8.00M253.90 124.86h8.00M253.90 124.86h-8.00M421.00 124.86h8.00M421.00 124.86h-8.00M588.20 124.86h8.00M588.20 124.86h-8.00M755.40 124.86h-8.00M86.80 116.30h4.20M253.90 116.30h4.20M253.90 116.30h-4.20M421.00 116.30h4.20M421.00 116.30h-4.20M588.20 116.30h4.20M588.20 116.30h-4.20M755.40 116.30h-4.20M86.80 107.73h4.20M253.90 107.73h4.20M253.90 107.73h-4.20M421.00 107.73h4.20M421.00 107.73h-4.20M588.20 107.73h4.20M588.20 107.73h-4.20M755.40 107.73h-4.20M86.80 99.17h4.20M253.90 99.17h4.20M253.90 99.17h-4.20M421.00 99.17h4.20M421.00 99.17h-4.20M588.20 99.17h4.20M588.20 99.17h-4.20M755.40 99.17h-4.20M86.80 90.60h4.20M253.90 90.60h4.20M253.90 90.60h-4.20M421.00 90.60h4.20M421.00 90.60h-4.20M588.20 90.60h4.20M588.20 90.60h-4.20M755.40 90.60h-4.20M86.80 82.04h8.00M253.90 82.04h8.00M253.90 82.04h-8.00M421.00 82.04h8.00M421.00 82.04h-8.00M588.20 82.04h8.00M588.20 82.04h-8.00M755.40 82.04h-8.00M86.80 73.48h4.20M253.90 73.48h4.20M253.90 73.48h-4.20M421.00 73.48h4.20M421.00 73.48h-4.20M588.20 73.48h4.20M588.20 73.48h-4.20M755.40 73.48h-4.20M86.80 64.91h4.20M253.90 64.91h4.20M253.90 64.91h-4.20M421.00 64.91h4.20M421.00 64.91h-4.20M588.20 64.91h4.20M588.20 64.91h-4.20M755.40 64.91h-4.20M86.80 56.35h4.20M253.90 56.35h4.20M253.90 56.35h-4.20M421.00 56.35h4.20M421.00 56.35h-4.20M588.20 56.35h4.20M588.20 56.35h-4.20M755.40 56.35h-4.20M86.80 47.78h4.20M253.90 47.78h4.20M253.90 47.78h-4.20M421.00 47.78h4.20M421.00 47.78h-4.20M588.20 47.78h4.20M588.20 47.78h-4.20M755.40 47.78h-4.20M86.80 378.00h8.00M253.90 378.00h8.00M253.90 378.00h-8.00M421.00 378.00h8.00M421.00 378.00h-8.00M588.20 378.00h8.00M588.20 378.00h-8.00M755.40 378.00h-8.00M86.80 369.41h4.20M253.90 369.41h4.20M253.90 369.41h-4.20M421.00 369.41h4.20M421.00 369.41h-4.20M588.20 369.41h4.20M588.20 369.41h-4.20M755.40 369.41h-4.20M86.80 360.82h4.20M253.90 360.82h4.20M253.90 360.82h-4.20M421.00 360.82h4.20M421.00 360.82h-4.20M588.20 360.82h4.20M588.20 360.82h-4.20M755.40 360.82h-4.20M86.80 352.23h4.20M253.90 352.23h4.20M253.90 352.23h-4.20M421.00 352.23h4.20M421.00 352.23h-4.20M588.20 352.23h4.20M588.20 352.23h-4.20M755.40 352.23h-4.20M86.80 343.64h4.20M253.90 343.64h4.20M253.90 343.64h-4.20M421.00 343.64h4.20M421.00 343.64h-4.20M588.20 343.64h4.20M588.20 343.64h-4.20M755.40 343.64h-4.20M86.80 335.05h8.00M253.90 335.05h8.00M253.90 335.05h-8.00M421.00 335.05h8.00M421.00 335.05h-8.00M588.20 335.05h8.00M588.20 335.05h-8.00M755.40 335.05h-8.00M86.80 326.46h4.20M253.90 326.46h4.20M253.90 326.46h-4.20M421.00 326.46h4.20M421.00 326.46h-4.20M588.20 326.46h4.20M588.20 326.46h-4.20M755.40 326.46h-4.20M86.80 317.87h4.20M253.90 317.87h4.20M253.90 317.87h-4.20M421.00 317.87h4.20M421.00 317.87h-4.20M588.20 317.87h4.20M588.20 317.87h-4.20M755.40 317.87h-4.20M86.80 309.28h4.20M253.90 309.28h4.20M253.90 309.28h-4.20M421.00 309.28h4.20M421.00 309.28h-4.20M588.20 309.28h4.20M588.20 309.28h-4.20M755.40 309.28h-4.20M86.80 300.69h4.20M253.90 300.69h4.20M253.90 300.69h-4.20M421.00 300.69h4.20M421.00 300.69h-4.20M588.20 300.69h4.20M588.20 300.69h-4.20M755.40 300.69h-4.20M86.80 292.10h8.00M253.90 292.10h8.00M253.90 292.10h-8.00M421.00 292.10h8.00M421.00 292.10h-8.00M588.20 292.10h8.00M588.20 292.10h-8.00M755.40 292.10h-8.00M86.80 283.51h4.20M253.90 283.51h4.20M253.90 283.51h-4.20M421.00 283.51h4.20M421.00 283.51h-4.20M588.20 283.51h4.20M588.20 283.51h-4.20M755.40 283.51h-4.20M86.80 274.92h4.20M253.90 274.92h4.20M253.90 274.92h-4.20M421.00 274.92h4.20M421.00 274.92h-4.20M588.20 274.92h4.20M588.20 274.92h-4.20M755.40 274.92h-4.20M86.80 266.33h4.20M253.90 266.33h4.20M253.90 266.33h-4.20M421.00 266.33h4.20M421.00 266.33h-4.20M588.20 266.33h4.20M588.20 266.33h-4.20M755.40 266.33h-4.20M86.80 257.74h4.20M253.90 257.74h4.20M253.90 257.74h-4.20M421.00 257.74h4.20M421.00 257.74h-4.20M588.20 257.74h4.20M588.20 257.74h-4.20M755.40 257.74h-4.20M86.80 249.15h8.00M253.90 249.15h8.00M253.90 249.15h-8.00M421.00 249.15h8.00M421.00 249.15h-8.00M588.20 249.15h8.00M588.20 249.15h-8.00M755.40 249.15h-8.00M86.80 240.56h4.20M253.90 240.56h4.20M253.90 240.56h-4.20M421.00 240.56h4.20M421.00 240.56h-4.20M588.20 240.56h4.20M588.20 240.56h-4.20M755.40 240.56h-4.20M86.80 231.97h4.20M253.90 231.97h4.20M253.90 231.97h-4.20M421.00 231.97h4.20M421.00 231.97h-4.20M588.20 231.97h4.20M588.20 231.97h-4.20M755.40 231.97h-4.20M86.80 223.38h4.20M253.90 223.38h4.20M253.90 223.38h-4.20M421.00 223.38h4.20M421.00 223.38h-4.20M588.20 223.38h4.20M588.20 223.38h-4.20M755.40 223.38h-4.20M86.80 214.79h4.20M253.90 214.79h4.20M253.90 214.79h-4.20M421.00 214.79h4.20M421.00 214.79h-4.20M588.20 214.79h4.20M588.20 214.79h-4.20M755.40 214.79h-4.20" stroke="#000" stroke-width="1.1" fill="none"/>
<path d="M86.80 42.90V378.60M253.90 42.90V378.60M421.00 42.90V378.60M588.20 42.90V378.60M755.40 42.90V378.60M86.20 43.50H756.00M86.20 210.50H756.00M86.20 378.00H756.00" stroke="#000" stroke-width="1.25" fill="none"/>
<g fill="#000" stroke="#000" stroke-width="0.2" style="opacity:0.999">
<text x="79.3" y="86.6" font-family="Liberation Sans, sans-serif" font-size="12.6" text-anchor="end" stroke-width="0.35">2</text>
<text x="78.4" y="129.5" font-family="Liberation Sans, sans-serif" font-size="12.6" text-anchor="end" stroke-width="0.35">1</text>
<text x="79.3" y="172.3" font-family="Liberation Sans, sans-serif" font-size="12.6" text-anchor="end" stroke-width="0.35">0</text>
<text x="78.4" y="215.1" font-family="Liberation Sans, sans-serif" font-size="12.6" text-anchor="end" stroke-width="0.35">1</text>
<text x="62.6" y="215.1" font-family="Liberation Sans, sans-serif" font-size="12.6" textLength="6.6" lengthAdjust="spacingAndGlyphs" stroke-width="0.35">−</text>
<text x="79.3" y="253.8" font-family="Liberation Sans, sans-serif" font-size="12.6" text-anchor="end" stroke-width="0.35">2</text>
<text x="78.4" y="296.7" font-family="Liberation Sans, sans-serif" font-size="12.6" text-anchor="end" stroke-width="0.35">1</text>
<text x="79.3" y="339.7" font-family="Liberation Sans, sans-serif" font-size="12.6" text-anchor="end" stroke-width="0.35">0</text>
<text x="78.4" y="382.6" font-family="Liberation Sans, sans-serif" font-size="12.6" text-anchor="end" stroke-width="0.35">1</text>
<text x="62.6" y="382.6" font-family="Liberation Sans, sans-serif" font-size="12.6" textLength="6.6" lengthAdjust="spacingAndGlyphs" stroke-width="0.35">−</text>
<text x="211.3" y="34.9" font-family="Liberation Serif, serif" font-size="16.6" textLength="21.1" lengthAdjust="spacingAndGlyphs" stroke-width="0.3">dR</text>
<text x="238.4" y="34.9" font-family="Liberation Serif, serif" font-size="16.6" textLength="9.5" lengthAdjust="spacingAndGlyphs" stroke-width="0.3">=</text>
<text x="254.5" y="34.9" font-family="Liberation Serif, serif" font-size="16.6" textLength="8.0" lengthAdjust="spacingAndGlyphs" stroke-width="0.3">2</text>
<text x="273.3" y="34.9" font-family="Liberation Serif, serif" font-size="16.6" textLength="30.6" lengthAdjust="spacingAndGlyphs" stroke-width="0.3">Mpc</text>
<text x="536.2" y="34.9" font-family="Liberation Serif, serif" font-size="16.6" textLength="21.6" lengthAdjust="spacingAndGlyphs" stroke-width="0.3">dR</text>
<text x="562.2" y="34.9" font-family="Liberation Serif, serif" font-size="16.6" textLength="10.2" lengthAdjust="spacingAndGlyphs" stroke-width="0.3">=</text>
<text x="578.9" y="34.9" font-family="Liberation Serif, serif" font-size="16.6" textLength="18.4" lengthAdjust="spacingAndGlyphs" stroke-width="0.3">20</text>
<text x="607.9" y="34.9" font-family="Liberation Serif, serif" font-size="16.6" textLength="31.6" lengthAdjust="spacingAndGlyphs" stroke-width="0.3">Mpc</text>
<text transform="translate(18.6 257.1) rotate(-90)" font-family="Liberation Serif, serif" stroke="none" font-size="21" textLength="26.6" lengthAdjust="spacingAndGlyphs">log</text>
<text transform="translate(18.6 214.7) rotate(-90)" font-family="Liberation Serif, serif" stroke="none" font-size="21" textLength="46.5" lengthAdjust="spacingAndGlyphs">PDF</text>
<text x="365.9" y="63.0" font-family="Liberation Serif, serif" font-size="13.6" textLength="7.0" lengthAdjust="spacingAndGlyphs" >Γ</text>
<text x="373.1" y="66.6" font-family="Liberation Sans, sans-serif" font-size="7.4" textLength="7.6" lengthAdjust="spacingAndGlyphs" font-weight="bold" stroke-width="0.1">HI</text>
<text x="345.0" y="85.6" font-family="Liberation Serif, serif" font-size="13.8" textLength="13.9" lengthAdjust="spacingAndGlyphs" >10</text>
<text x="360.1" y="81.9" font-family="Liberation Sans, sans-serif" font-size="7" textLength="21.3" lengthAdjust="spacingAndGlyphs" font-weight="bold" stroke-width="0.1">−12.4</text>
<text x="389.2" y="85.6" font-family="Liberation Serif, serif" font-size="13.8" textLength="6.0" lengthAdjust="spacingAndGlyphs" >s</text>
<text x="396.2" y="81.9" font-family="Liberation Sans, sans-serif" font-size="7" textLength="9.1" lengthAdjust="spacingAndGlyphs" font-weight="bold" stroke-width="0.1">−1</text>
<text x="345.0" y="102.8" font-family="Liberation Serif, serif" font-size="13.8" textLength="13.9" lengthAdjust="spacingAndGlyphs" >10</text>
<text x="360.1" y="99.1" font-family="Liberation Sans, sans-serif" font-size="7" textLength="21.3" lengthAdjust="spacingAndGlyphs" font-weight="bold" stroke-width="0.1">−12.7</text>
<text x="389.2" y="102.8" font-family="Liberation Serif, serif" font-size="13.8" textLength="6.0" lengthAdjust="spacingAndGlyphs" >s</text>
<text x="396.2" y="99.1" font-family="Liberation Sans, sans-serif" font-size="7" textLength="9.1" lengthAdjust="spacingAndGlyphs" font-weight="bold" stroke-width="0.1">−1</text>
<text x="345.0" y="120.0" font-family="Liberation Serif, serif" font-size="13.8" textLength="13.9" lengthAdjust="spacingAndGlyphs" >10</text>
<text x="360.1" y="116.3" font-family="Liberation Sans, sans-serif" font-size="7" textLength="21.3" lengthAdjust="spacingAndGlyphs" font-weight="bold" stroke-width="0.1">−13.0</text>
<text x="389.2" y="120.0" font-family="Liberation Serif, serif" font-size="13.8" textLength="6.0" lengthAdjust="spacingAndGlyphs" >s</text>
<text x="396.2" y="116.3" font-family="Liberation Sans, sans-serif" font-size="7" textLength="9.1" lengthAdjust="spacingAndGlyphs" font-weight="bold" stroke-width="0.1">−1</text>
<text x="334.5" y="252.9" font-family="Liberation Serif, serif" font-size="13.9" textLength="30.1" lengthAdjust="spacingAndGlyphs" >Unif.</text>
<text x="373.2" y="252.9" font-family="Liberation Serif, serif" font-size="13.9" textLength="6.5" lengthAdjust="spacingAndGlyphs" >Γ</text>
<text x="380.0" y="256.6" font-family="Liberation Sans, sans-serif" font-size="7.4" textLength="7.2" lengthAdjust="spacingAndGlyphs" font-weight="bold" stroke-width="0.1">HI</text>
<text x="334.5" y="270.5" font-family="Liberation Serif, serif" font-size="13.9" textLength="36.5" lengthAdjust="spacingAndGlyphs" >Fluct.</text>
<text x="380.0" y="270.5" font-family="Liberation Serif, serif" font-size="13.9" textLength="6.3" lengthAdjust="spacingAndGlyphs" >Γ</text>
<text x="386.7" y="274.1" font-family="Liberation Sans, sans-serif" font-size="7.4" textLength="7.6" lengthAdjust="spacingAndGlyphs" font-weight="bold" stroke-width="0.1">HI</text>
<text x="334.5" y="286.6" font-family="Liberation Serif, serif" font-size="13.9" textLength="30.6" lengthAdjust="spacingAndGlyphs" >Pure</text>
<text x="373.2" y="286.6" font-family="Liberation Serif, serif" font-size="13.9" textLength="34.1" lengthAdjust="spacingAndGlyphs" >noise</text>
</g>
<path d="M294.6 82.0H337.4" stroke="#4169e1" stroke-width="2.4"/>
<path d="M294.6 99.2H337.4" stroke="#000" stroke-width="2.4"/>
<path d="M294.6 116.4H337.4" stroke="#ff8c00" stroke-width="2.4"/>
<path d="M286.3 249.4H328.7" stroke="#000" stroke-width="2.4"/>
<path d="M286.3 266.6H328.7" stroke="#ff0000" stroke-width="2.4"/>
<path d="M286.6 283.4H328.7" stroke="#000" stroke-width="2.3" stroke-dasharray="2.3 2.8"/>
</svg>
</body></html>
